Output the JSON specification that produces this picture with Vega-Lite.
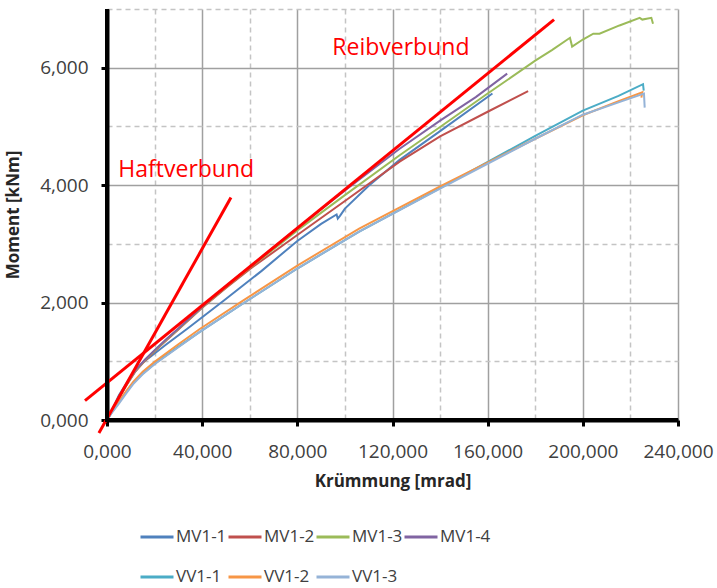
{
  "$schema": "https://vega.github.io/schema/vega-lite/v6.json",
  "width": 571,
  "height": 411,
  "autosize": {"type": "none"},
  "padding": {"left": 107, "top": 9, "right": 39, "bottom": 168},
  "config": {
    "font": "Open Sans",
    "view": {"stroke": null},
    "axis": {
      "domainColor": "black", "domainWidth": 4,
      "tickColor": "black", "tickWidth": 3, "tickSize": 6,
      "gridWidth": 1.5, "gridColor": "#A0A0A0",
      "labelFontSize": 19, "labelColor": "#404040",
      "labelFlush": false, "labelOverlap": false,
      "titleFontSize": 17, "titleFontWeight": "bold", "titleColor": "#262626"
    }
  },
  "resolve": {"axis": {"x": "independent", "y": "independent"}},
  "datasets": {
    "curves": [
      {"s":"MV1-1","i":0,"x":0,"y":0},{"s":"MV1-1","i":1,"x":2,"y":0.16},{"s":"MV1-1","i":2,"x":5,"y":0.42},{"s":"MV1-1","i":3,"x":10,"y":0.74},{"s":"MV1-1","i":4,"x":15,"y":0.98},{"s":"MV1-1","i":5,"x":18,"y":1.07},{"s":"MV1-1","i":6,"x":25,"y":1.29},{"s":"MV1-1","i":7,"x":33.6,"y":1.55},{"s":"MV1-1","i":8,"x":49,"y":2.03},{"s":"MV1-1","i":9,"x":65,"y":2.54},{"s":"MV1-1","i":10,"x":80,"y":3.05},{"s":"MV1-1","i":11,"x":90,"y":3.34},{"s":"MV1-1","i":12,"x":96.5,"y":3.5},{"s":"MV1-1","i":13,"x":97,"y":3.43},{"s":"MV1-1","i":14,"x":98,"y":3.48},{"s":"MV1-1","i":15,"x":100,"y":3.6},{"s":"MV1-1","i":16,"x":110,"y":3.99},{"s":"MV1-1","i":17,"x":123,"y":4.43},{"s":"MV1-1","i":18,"x":140,"y":4.92},{"s":"MV1-1","i":19,"x":162,"y":5.56},
      {"s":"MV1-2","i":0,"x":0,"y":0},{"s":"MV1-2","i":1,"x":2,"y":0.14},{"s":"MV1-2","i":2,"x":5,"y":0.37},{"s":"MV1-2","i":3,"x":8,"y":0.58},{"s":"MV1-2","i":4,"x":12,"y":0.83},{"s":"MV1-2","i":5,"x":16,"y":1.01},{"s":"MV1-2","i":6,"x":20,"y":1.17},{"s":"MV1-2","i":7,"x":25,"y":1.36},{"s":"MV1-2","i":8,"x":30,"y":1.54},{"s":"MV1-2","i":9,"x":40,"y":1.91},{"s":"MV1-2","i":10,"x":50,"y":2.25},{"s":"MV1-2","i":11,"x":60,"y":2.57},{"s":"MV1-2","i":12,"x":80,"y":3.15},{"s":"MV1-2","i":13,"x":100,"y":3.73},{"s":"MV1-2","i":14,"x":123,"y":4.4},{"s":"MV1-2","i":15,"x":140,"y":4.83},{"s":"MV1-2","i":16,"x":160,"y":5.25},{"s":"MV1-2","i":17,"x":177,"y":5.6},
      {"s":"MV1-3","i":0,"x":0,"y":0},{"s":"MV1-3","i":1,"x":2,"y":0.15},{"s":"MV1-3","i":2,"x":5,"y":0.38},{"s":"MV1-3","i":3,"x":8,"y":0.59},{"s":"MV1-3","i":4,"x":12,"y":0.84},{"s":"MV1-3","i":5,"x":16,"y":1.02},{"s":"MV1-3","i":6,"x":20,"y":1.18},{"s":"MV1-3","i":7,"x":25,"y":1.37},{"s":"MV1-3","i":8,"x":30,"y":1.55},{"s":"MV1-3","i":9,"x":40,"y":1.92},{"s":"MV1-3","i":10,"x":50,"y":2.26},{"s":"MV1-3","i":11,"x":60,"y":2.59},{"s":"MV1-3","i":12,"x":80,"y":3.23},{"s":"MV1-3","i":13,"x":100,"y":3.83},{"s":"MV1-3","i":14,"x":123,"y":4.51},{"s":"MV1-3","i":15,"x":140,"y":4.99},{"s":"MV1-3","i":16,"x":160,"y":5.56},{"s":"MV1-3","i":17,"x":180,"y":6.12},{"s":"MV1-3","i":18,"x":187,"y":6.3},{"s":"MV1-3","i":19,"x":194.6,"y":6.51},{"s":"MV1-3","i":20,"x":195.5,"y":6.36},{"s":"MV1-3","i":21,"x":200,"y":6.48},{"s":"MV1-3","i":22,"x":204.4,"y":6.58},{"s":"MV1-3","i":23,"x":207,"y":6.58},{"s":"MV1-3","i":24,"x":215.4,"y":6.72},{"s":"MV1-3","i":25,"x":223.9,"y":6.85},{"s":"MV1-3","i":26,"x":225,"y":6.82},{"s":"MV1-3","i":27,"x":228.8,"y":6.85},{"s":"MV1-3","i":28,"x":229.5,"y":6.75},
      {"s":"MV1-4","i":0,"x":0,"y":0},{"s":"MV1-4","i":1,"x":2,"y":0.15},{"s":"MV1-4","i":2,"x":5,"y":0.38},{"s":"MV1-4","i":3,"x":8,"y":0.6},{"s":"MV1-4","i":4,"x":12,"y":0.85},{"s":"MV1-4","i":5,"x":16,"y":1.03},{"s":"MV1-4","i":6,"x":20,"y":1.19},{"s":"MV1-4","i":7,"x":25,"y":1.38},{"s":"MV1-4","i":8,"x":30,"y":1.56},{"s":"MV1-4","i":9,"x":40,"y":1.93},{"s":"MV1-4","i":10,"x":50,"y":2.28},{"s":"MV1-4","i":11,"x":60,"y":2.61},{"s":"MV1-4","i":12,"x":80,"y":3.27},{"s":"MV1-4","i":13,"x":100,"y":3.91},{"s":"MV1-4","i":14,"x":123,"y":4.62},{"s":"MV1-4","i":15,"x":140,"y":5.1},{"s":"MV1-4","i":16,"x":155,"y":5.5},{"s":"MV1-4","i":17,"x":168.2,"y":5.9},
      {"s":"VV1-1","i":0,"x":0,"y":0},{"s":"VV1-1","i":1,"x":2,"y":0.13},{"s":"VV1-1","i":2,"x":5,"y":0.3},{"s":"VV1-1","i":3,"x":8,"y":0.47},{"s":"VV1-1","i":4,"x":11,"y":0.63},{"s":"VV1-1","i":5,"x":15,"y":0.79},{"s":"VV1-1","i":6,"x":20,"y":0.96},{"s":"VV1-1","i":7,"x":30,"y":1.25},{"s":"VV1-1","i":8,"x":39,"y":1.5},{"s":"VV1-1","i":9,"x":57,"y":1.98},{"s":"VV1-1","i":10,"x":80,"y":2.58},{"s":"VV1-1","i":11,"x":106,"y":3.21},{"s":"VV1-1","i":12,"x":140,"y":3.95},{"s":"VV1-1","i":13,"x":180,"y":4.84},{"s":"VV1-1","i":14,"x":200,"y":5.27},{"s":"VV1-1","i":15,"x":215,"y":5.52},{"s":"VV1-1","i":16,"x":225.3,"y":5.72},{"s":"VV1-1","i":17,"x":225.6,"y":5.61},
      {"s":"VV1-2","i":0,"x":0,"y":0},{"s":"VV1-2","i":1,"x":2,"y":0.14},{"s":"VV1-2","i":2,"x":5,"y":0.32},{"s":"VV1-2","i":3,"x":8,"y":0.49},{"s":"VV1-2","i":4,"x":11,"y":0.65},{"s":"VV1-2","i":5,"x":15,"y":0.82},{"s":"VV1-2","i":6,"x":20,"y":0.99},{"s":"VV1-2","i":7,"x":30,"y":1.29},{"s":"VV1-2","i":8,"x":39,"y":1.55},{"s":"VV1-2","i":9,"x":57,"y":2.03},{"s":"VV1-2","i":10,"x":80,"y":2.63},{"s":"VV1-2","i":11,"x":106,"y":3.26},{"s":"VV1-2","i":12,"x":140,"y":3.98},{"s":"VV1-2","i":13,"x":180,"y":4.79},{"s":"VV1-2","i":14,"x":200,"y":5.19},{"s":"VV1-2","i":15,"x":215,"y":5.43},{"s":"VV1-2","i":16,"x":225,"y":5.58},{"s":"VV1-2","i":17,"x":224.6,"y":5.49},
      {"s":"VV1-3","i":0,"x":0,"y":0},{"s":"VV1-3","i":1,"x":2,"y":0.12},{"s":"VV1-3","i":2,"x":5,"y":0.28},{"s":"VV1-3","i":3,"x":8,"y":0.45},{"s":"VV1-3","i":4,"x":11,"y":0.61},{"s":"VV1-3","i":5,"x":15,"y":0.78},{"s":"VV1-3","i":6,"x":20,"y":0.95},{"s":"VV1-3","i":7,"x":30,"y":1.24},{"s":"VV1-3","i":8,"x":39,"y":1.5},{"s":"VV1-3","i":9,"x":57,"y":1.98},{"s":"VV1-3","i":10,"x":80,"y":2.58},{"s":"VV1-3","i":11,"x":106,"y":3.21},{"s":"VV1-3","i":12,"x":140,"y":3.94},{"s":"VV1-3","i":13,"x":180,"y":4.79},{"s":"VV1-3","i":14,"x":200,"y":5.2},{"s":"VV1-3","i":15,"x":215,"y":5.41},{"s":"VV1-3","i":16,"x":225.7,"y":5.56},{"s":"VV1-3","i":17,"x":226,"y":5.32}
    ],
    "refs": [
      {"r":"Haftverbund","i":0,"x":-3.4,"y":-0.22},{"r":"Haftverbund","i":1,"x":52.1,"y":3.79},
      {"r":"Reibverbund","i":0,"x":-9.25,"y":0.33},{"r":"Reibverbund","i":1,"x":187.9,"y":6.82}
    ],
    "notes": [
      {"label":"Haftverbund","x":4.75,"y":4.25},
      {"label":"Reibverbund","x":94.7,"y":6.34}
    ],
    "frame": [
      {"i":0,"x":0,"y":7},{"i":1,"x":0,"y":0},{"i":2,"x":240,"y":0}
    ]
  },
  "layer": [
    {
      "data": {"name": "refs"},
      "mark": {"type": "line", "opacity": 0},
      "encoding": {
        "x": {
          "field": "x", "type": "quantitative",
          "scale": {"domain": [0, 240], "nice": false, "zero": false},
          "axis": {
            "orient": "bottom", "values": [20, 60, 100, 140, 180, 220],
            "grid": true, "gridDash": [5, 4], "gridColor": "#C4C4C4",
            "domain": false, "ticks": false, "labels": false, "title": null,
            "minExtent": 0, "maxExtent": 0, "offset": 0
          }
        },
        "y": {
          "field": "y", "type": "quantitative",
          "scale": {"domain": [0, 7], "nice": false, "zero": false},
          "axis": {
            "orient": "left", "values": [1, 3, 5, 7],
            "grid": true, "gridDash": [5, 4], "gridColor": "#C4C4C4",
            "domain": false, "ticks": false, "labels": false, "title": null,
            "minExtent": 0, "maxExtent": 0, "offset": 0
          }
        },
        "detail": {"field": "r", "type": "nominal"}
      }
    },
    {
      "data": {"name": "curves"},
      "mark": {"type": "line", "strokeWidth": 2},
      "encoding": {
        "x": {
          "field": "x", "type": "quantitative",
          "axis": {
            "orient": "bottom", "values": [0, 40, 80, 120, 160, 200, 240],
            "grid": true, "domain": true, "ticks": true,
            "title": "Krümmung [mrad]",
            "labelExpr": "replace(format(datum.value, '.3f'), '.', ',')",
            "labelPadding": 16, "titlePadding": 12
          }
        },
        "y": {
          "field": "y", "type": "quantitative",
          "axis": {
            "orient": "left", "values": [0, 2, 4, 6],
            "grid": true, "domain": true, "ticks": true,
            "title": "Moment [kNm]",
            "labelExpr": "replace(format(datum.value, '.3f'), '.', ',')",
            "labelPadding": 13, "titlePadding": 17
          }
        },
        "color": {
          "field": "s", "type": "nominal",
          "scale": {
            "domain": ["MV1-1","MV1-2","MV1-3","MV1-4","VV1-1","VV1-2","VV1-3"],
            "range": ["#4F81BD","#C0504D","#9BBB59","#8064A2","#4BACC6","#F79646","#95B3D7"]
          },
          "legend": {
            "orient": "none", "legendX": 32, "legendY": 510,
            "direction": "horizontal",
            "title": null, "columns": 4, "gridAlign": "all",
            "symbolType": "stroke", "symbolSize": 1089, "symbolStrokeWidth": 3,
            "labelFontSize": 17, "labelColor": "#404040", "labelOffset": 1,
            "columnPadding": -5, "rowPadding": 14
          }
        },
        "order": {"field": "i", "type": "quantitative"}
      }
    },
    {
      "data": {"name": "refs"},
      "mark": {"type": "line", "color": "#FF0000", "strokeWidth": 3},
      "encoding": {
        "x": {"field": "x", "type": "quantitative", "axis": null},
        "y": {"field": "y", "type": "quantitative", "axis": null},
        "detail": {"field": "r", "type": "nominal"},
        "order": {"field": "i", "type": "quantitative"}
      }
    },
    {
      "data": {"name": "notes"},
      "mark": {"type": "text", "color": "#FF0000", "fontSize": 23, "align": "left", "baseline": "middle"},
      "encoding": {
        "x": {"field": "x", "type": "quantitative", "axis": null},
        "y": {"field": "y", "type": "quantitative", "axis": null},
        "text": {"field": "label", "type": "nominal"}
      }
    },
    {
      "data": {"name": "frame"},
      "mark": {"type": "line", "color": "black", "strokeWidth": 4, "strokeOpacity": 1},
      "encoding": {
        "x": {"field": "x", "type": "quantitative", "axis": null},
        "y": {"field": "y", "type": "quantitative", "axis": null},
        "order": {"field": "i", "type": "quantitative"}
      }
    }
  ]
}
